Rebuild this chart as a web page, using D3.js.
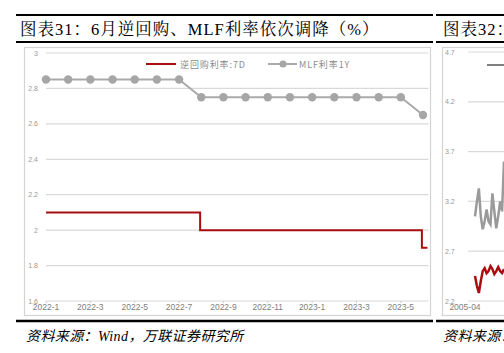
<!DOCTYPE html>
<html>
<head>
<meta charset="utf-8">
<script src="https://cdn.jsdelivr.net/npm/d3@7"></script>
<style>
  html, body { margin: 0; padding: 0; background: #fff; }
  svg { display: block; }
</style>
</head>
<body>
<svg id="chart" width="504" height="353"></svg>
<script>
// 图表31 data: months 2022-1 .. 2023-6 (index 0..17)
const months = ["2022-1","2022-2","2022-3","2022-4","2022-5","2022-6","2022-7","2022-8","2022-9",
  "2022-10","2022-11","2022-12","2023-1","2023-2","2023-3","2023-4","2023-5","2023-6"];
const mlfRate = [2.85,2.85,2.85,2.85,2.85,2.85,2.85,2.75,2.75,2.75,2.75,2.75,2.75,2.75,2.75,2.75,2.75,2.65];
// reverse repo 7D, step line: [month index, rate]
const repoSteps = [[0,2.1],[6.95,2.1],[6.95,2.0],[16.95,2.0],[16.95,1.9],[17.2,1.9]];
const xTickLabels = ["2022-1","2022-3","2022-5","2022-7","2022-9","2022-11","2023-1","2023-3","2023-5"];
const yTicks = [1.6,1.8,2,2.2,2.4,2.6,2.8,3];

// 图表32 (cut off at right edge)
const rightYTicks = [2.2,2.7,3.2,3.7,4.2,4.7];
const rightGray = [3.05,3.2,3.33,3.05,2.92,3.0,3.12,3.0,2.97,3.28,3.1,2.93,3.05,3.2,3.1,3.6];
const rightRed = [2.45,2.35,2.28,2.4,2.5,2.53,2.48,2.5,2.55,2.52,2.47,2.5,2.54,2.5,2.48,2.52];

const svg = d3.select("#chart");
const cjk = "'Noto Sans CJK SC', sans-serif";
const narrow = "'Liberation Sans Narrow', 'Arial Narrow', 'Liberation Sans', sans-serif";

// ---- frame lines and titles
function frame(x1, x2) {
  [[15, 2], [42, 2], [321, 2.5]].forEach(([y, w]) => {
    svg.append("line").attr("x1", x1).attr("x2", x2).attr("y1", y).attr("y2", y)
      .attr("stroke", "#000").attr("stroke-width", w);
  });
}
frame(16, 433);
frame(436, 504);

svg.append("text").attr("x", 20).attr("y", 35)
  .style("font-family", "'Liberation Serif', 'Noto Serif CJK SC', " + cjk)
  .style("font-size", "16.5px").style("letter-spacing", "1px")
  .text("图表31：6月逆回购、MLF利率依次调降（%）");
svg.append("text").attr("x", 443).attr("y", 35)
  .style("font-family", "'Liberation Serif', 'Noto Serif CJK SC', " + cjk)
  .style("font-size", "16.5px").style("letter-spacing", "1px").text("图表32：");

svg.append("text").attr("x", 26).attr("y", 341)
  .style("font-family", "'Liberation Serif', " + cjk).style("font-style", "italic")
  .style("font-size", "14px").style("letter-spacing", "0.4px")
  .text("资料来源：Wind，万联证券研究所");
svg.append("text").attr("x", 443).attr("y", 341)
  .style("font-family", "'Liberation Serif', " + cjk).style("font-style", "italic")
  .style("font-size", "14px").style("letter-spacing", "0.4px").text("资料来源：");

// chart boxes
svg.append("rect").attr("x", 24.5).attr("y", 47.5).attr("width", 406).attr("height", 268)
  .attr("fill", "none").attr("stroke", "#d4d4d4").attr("stroke-width", 1.2);
svg.append("rect").attr("x", 442.5).attr("y", 47.5).attr("width", 80).attr("height", 268)
  .attr("fill", "none").attr("stroke", "#d4d4d4").attr("stroke-width", 1.2);

// ---- left chart
const x = d3.scaleLinear().domain([0, 17]).range([46, 423]);
const y = d3.scaleLinear().domain([1.6, 3]).range([301, 53]);

const g = svg.append("g");
g.selectAll(".grid").data(yTicks).enter().append("line")
  .attr("x1", x(0)).attr("x2", x(17.25))
  .attr("y1", d => y(d)).attr("y2", d => y(d))
  .attr("stroke", "#d9d9d9").attr("stroke-width", 1.2);

g.selectAll(".ylab").data(yTicks).enter().append("text")
  .attr("x", 38).attr("y", d => y(d) + 2.5)
  .attr("text-anchor", "end")
  .style("font-family", narrow).style("font-size", "7px").style("fill", "#999")
  .text(d => d3.format("")(d));

g.selectAll(".xtick").data(xTickLabels).enter().append("line")
  .attr("x1", d => x(months.indexOf(d))).attr("x2", d => x(months.indexOf(d)))
  .attr("y1", y(1.6)).attr("y2", y(1.6) + 2)
  .attr("stroke", "#ccc");

g.selectAll(".xlab").data(xTickLabels).enter().append("text")
  .attr("x", d => x(months.indexOf(d))).attr("y", 310)
  .attr("text-anchor", "middle")
  .style("font-family", narrow).style("font-size", "8.5px").style("fill", "#808080")
  .text(d => d);

// reverse repo line
g.append("path").datum(repoSteps)
  .attr("d", d3.line().x(d => x(d[0])).y(d => y(d[1])))
  .attr("fill", "none").attr("stroke", "#A80D10").attr("stroke-width", 2);

// MLF line
g.append("path").datum(mlfRate)
  .attr("d", d3.line().x((d, i) => x(i)).y(d => y(d)))
  .attr("fill", "none").attr("stroke", "#aaaaaa").attr("stroke-width", 2);
g.selectAll(".mk").data(mlfRate).enter().append("circle")
  .attr("cx", (d, i) => x(i)).attr("cy", d => y(d)).attr("r", 4.2)
  .attr("fill", "#a6a6a6");

// legend
const lg = svg.append("g").attr("transform", "translate(146,64)");
lg.append("line").attr("x1", 0).attr("x2", 30).attr("stroke", "#A80D10").attr("stroke-width", 2);
lg.append("text").attr("x", 34).attr("y", 3.5)
  .style("font-family", cjk).style("font-size", "9px").style("letter-spacing", "0.9px")
  .style("fill", "#8c8c8c").text("逆回购利率:7D");
lg.append("line").attr("x1", 122).attr("x2", 151).attr("stroke", "#aaaaaa").attr("stroke-width", 2);
lg.append("circle").attr("cx", 137).attr("cy", 0).attr("r", 3.5).attr("fill", "#a6a6a6");
lg.append("text").attr("x", 153).attr("y", 3.5)
  .style("font-family", cjk).style("font-size", "9px").style("letter-spacing", "0.9px")
  .style("fill", "#8c8c8c").text("MLF利率1Y");

// ---- right chart (partial)
const x2 = d3.scaleLinear().domain([0, rightGray.length - 1]).range([475, 504]);
const y2 = d3.scaleLinear().domain([2.2, 4.7]).range([301, 52]);
const g2 = svg.append("g");
g2.selectAll(".grid2").data(rightYTicks).enter().append("line")
  .attr("x1", 468).attr("x2", 504)
  .attr("y1", d => y2(d)).attr("y2", d => y2(d))
  .attr("stroke", "#d9d9d9").attr("stroke-width", 1.2);
g2.selectAll(".ylab2").data(rightYTicks).enter().append("text")
  .attr("x", 445).attr("y", d => y2(d) + 2.5)
  .style("font-family", narrow).style("font-size", "7px").style("fill", "#999")
  .text(d => d3.format(".1f")(d));
g2.append("text").attr("x", 465).attr("y", 310).attr("text-anchor", "middle")
  .style("font-family", narrow).style("font-size", "8.5px").style("fill", "#808080")
  .text("2005-04");
g2.append("path").datum(rightGray)
  .attr("d", d3.line().x((d, i) => x2(i)).y(d => y2(d)))
  .attr("fill", "none").attr("stroke", "#9a9a9a").attr("stroke-width", 2.5);
g2.append("path").datum(rightRed)
  .attr("d", d3.line().x((d, i) => x2(i)).y(d => y2(d)))
  .attr("fill", "none").attr("stroke", "#A80D10").attr("stroke-width", 2.5);
g2.append("line").attr("x1", 487).attr("x2", 504).attr("y1", 65).attr("y2", 65)
  .attr("stroke", "#7f7f7f").attr("stroke-width", 2);
</script>
</body>
</html>
